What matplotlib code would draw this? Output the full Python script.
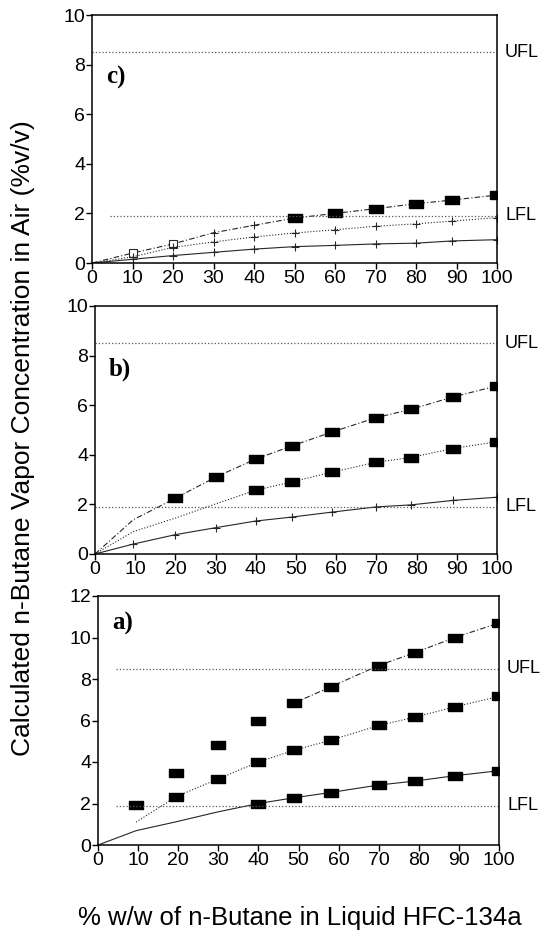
import numpy as np
import matplotlib
matplotlib.use("Agg")
from matplotlib import pyplot

pyplot.rcParams['font.family'] = ['Liberation Sans', 'DejaVu Sans']

nan = np.nan
LFL = 1.9
UFL = 8.5

# panel c)
x_c = [0, 10, 20, 30, 40, 50, 60, 70, 80, 89, 100]
c1 = [0, 0.40, 0.77, 1.22, 1.52, 1.81, 2.00, 2.19, 2.39, 2.54, 2.74]
c2 = [0, 0.25, 0.63, 0.85, 1.05, 1.21, 1.34, 1.48, 1.58, 1.69, 1.83]
c3 = [0, 0.15, 0.30, 0.43, 0.56, 0.66, 0.71, 0.77, 0.80, 0.89, 0.94]

# panel b)
x_b = [0, 9.5, 20, 30, 40, 49, 59, 70, 78.5, 89, 100]
b1 = [0, 1.38, 2.25, 3.10, 3.83, 4.36, 4.92, 5.50, 5.83, 6.33, 6.78]
b2 = [0, 0.90, 1.45, 2.02, 2.57, 2.91, 3.30, 3.70, 3.89, 4.25, 4.53]
b3 = [0, 0.40, 0.78, 1.06, 1.33, 1.49, 1.69, 1.90, 1.98, 2.16, 2.29]

# panel a)
x_a = [0, 9.5, 19.5, 30, 40, 49, 58, 70, 79, 89, 100]
a1 = [nan, 1.91, 3.48, 4.81, 5.98, 6.85, 7.62, 8.65, 9.27, 10.0, 10.7]
a2 = [nan, 1.10, 2.33, 3.19, 4.00, 4.57, 5.05, 5.76, 6.16, 6.66, 7.16]
a3 = [0, 0.69, 1.12, 1.60, 2.00, 2.28, 2.53, 2.89, 3.08, 3.34, 3.58]

xticks = [0, 10, 20, 30, 40, 50, 60, 70, 80, 90, 100]

# rectangle-ish filled marker like the scanned figure
rect = [(-1.3, -0.85), (1.3, -0.85), (1.3, 0.85), (-1.3, 0.85), (-1.3, -0.85)]

W, H = 545, 934
fig = pyplot.figure(figsize=(W/100, H/100), dpi=100)

def box(l, t, r, b):
	return [l/W, 1-b/H, (r-l)/W, (b-t)/H]

ax_c = fig.add_axes(box(92, 15, 497, 263))
ax_b = fig.add_axes(box(95, 306, 497, 554))
ax_a = fig.add_axes(box(98, 596, 499, 845))

lc = '0.15'

def series(ax, x, y, ls, sq_from=None, plus=False, line_from=0):
	x = np.array(x, dtype=float)
	y = np.array(y, dtype=float)
	ax.plot(x[line_from:], y[line_from:], ls=ls, color=lc, lw=0.8)
	if plus:
		ax.plot(x[1:], y[1:], ls='none', marker='+', ms=6, mew=0.8, color=lc)
	if sq_from is not None:
		ax.plot(x[sq_from:], y[sq_from:], ls='none', marker=rect, ms=9.5,
				color='black')

# c)
series(ax_c, x_c, c1, (0, (5, 2, 1, 2)), sq_from=5)
ax_c.plot(x_c[3:5], c1[3:5], ls='none', marker='+', ms=6, mew=0.8, color=lc)
ax_c.plot(x_c[1:3], c1[1:3], ls='none', marker='s', ms=6, mfc='white', mec=lc, mew=0.8)
series(ax_c, x_c, c2, ':', plus=True)
series(ax_c, x_c, c3, '-', plus=True)

# b)
series(ax_b, x_b, b1, (0, (5, 2, 1, 2)), sq_from=2)
series(ax_b, x_b, b2, ':', sq_from=4)
series(ax_b, x_b, b3, '-', plus=True)

# a)
series(ax_a, x_a, a1, (0, (5, 2, 1, 2)), sq_from=1, line_from=5)
series(ax_a, x_a, a2, ':', sq_from=2)
series(ax_a, x_a, a3, '-', sq_from=4)

# axis, label text, label y position, start of UFL / LFL lines
panels = [(ax_c, 'c)', 10, 0.75, 0.0, 0.045),
		  (ax_b, 'b)', 10, 0.745, 0.0, 0.0),
		  (ax_a, 'a)', 12, 0.89, 0.045, 0.045)]
for ax, lab, ymax, ly, u0, l0 in panels:
	ax.axhline(UFL, xmin=u0, color='0.35', ls=':', lw=0.9)
	ax.axhline(LFL, xmin=l0, color='0.35', ls=':', lw=0.9)
	ax.set_xlim(0, 100)
	ax.set_ylim(0, ymax)
	ax.set_xticks(xticks)
	ax.set_yticks(np.arange(0, ymax+1, 2))
	ax.tick_params(direction='out', length=4, width=1, labelsize=14, pad=1)
	for s in ax.spines.values():
		s.set_linewidth(1.1)
	ax.text(1.02, UFL, 'UFL', transform=ax.get_yaxis_transform(), va='center',
			ha='left', fontsize=13)
	ax.text(1.02, LFL, 'LFL', transform=ax.get_yaxis_transform(), va='center',
			ha='left', fontsize=13)
	ax.text(0.035, ly, lab, transform=ax.transAxes, fontsize=18, fontweight='bold',
			family='Liberation Serif', va='center', ha='left')

fig.text(0.042, 0.531, 'Calculated n-Butane Vapor Concentration in Air (%v/v)',
		 rotation=90, va='center', ha='center', fontsize=19)
fig.text(0.55, 0.017, '% w/w of n-Butane in Liquid HFC-134a', ha='center',
		 va='center', fontsize=18.5)

pyplot.savefig("out.png", format="png", dpi=100)
